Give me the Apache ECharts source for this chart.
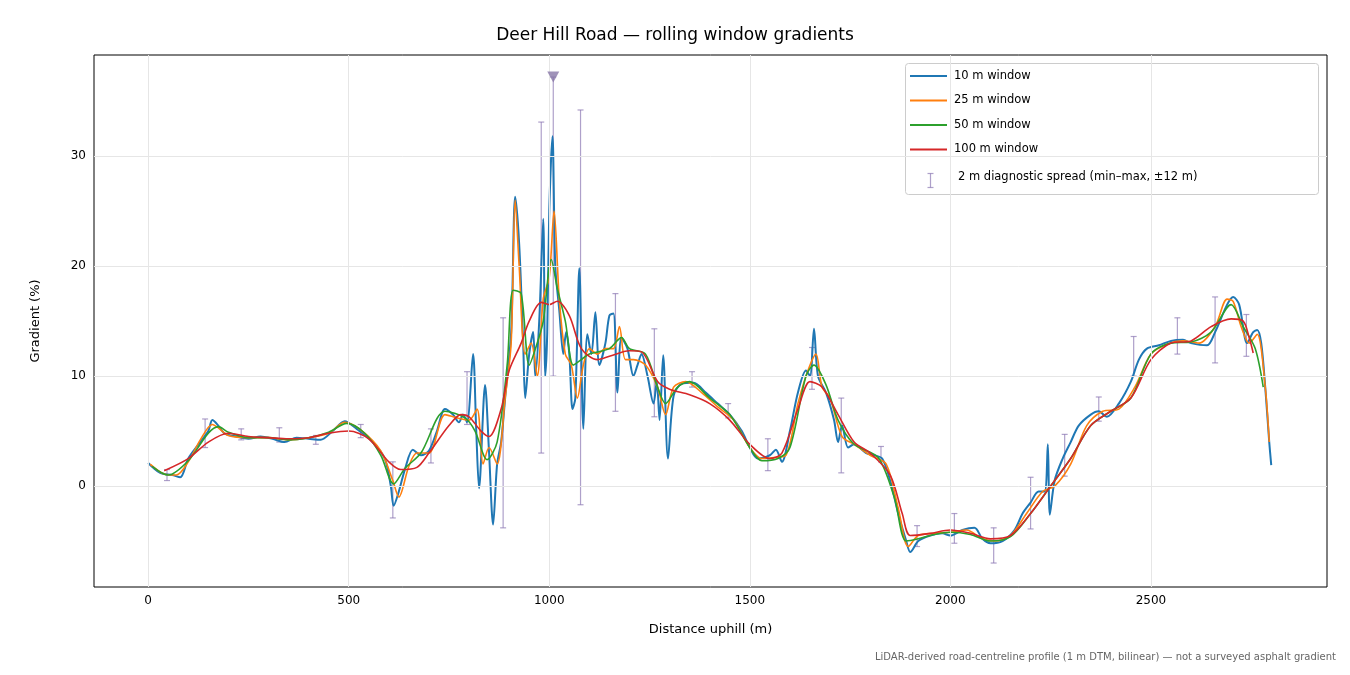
<!DOCTYPE html>
<html><head><meta charset="utf-8">
<script src="https://cdn.jsdelivr.net/npm/echarts@6/dist/echarts.min.js"></script>
<style>html,body{margin:0;padding:0;background:#fff}#c{width:1350px;height:675px}</style>
</head><body><div id="c"></div>
<script>
const x10 = [0,30,60,80,100,130,150,160,175,190,220,250,280,310,340,370,400,430,460,490,520,560,590,605,612,625,640,660,680,700,720,740,760,775,785,795,810,818,825,840,850,860,870,880,890,905,915,925,935,940,950,960,965,975,985,990,995,1000,1008,1015,1025,1035,1042,1050,1058,1065,1075,1085,1095,1105,1115,1125,1140,1150,1160,1170,1180,1195,1210,1220,1230,1245,1260,1268,1275,1284,1296,1310,1330,1360,1390,1420,1450,1480,1500,1520,1550,1565,1580,1600,1620,1640,1650,1660,1670,1690,1710,1720,1730,1745,1760,1790,1810,1830,1850,1870,1890,1900,1920,1950,1980,2000,2030,2060,2080,2100,2130,2160,2180,2200,2220,2235,2243,2248,2260,2280,2300,2320,2350,2370,2390,2420,2450,2470,2490,2520,2550,2580,2600,2640,2660,2690,2705,2720,2740,2755,2765,2775,2785,2795,2800];
const g10 = [2.1,1.2,1.0,0.8,2.5,4.0,5.0,6.0,5.5,4.8,4.5,4.3,4.5,4.3,4.0,4.4,4.3,4.2,5.0,5.9,5.2,4.0,2.5,0,-1.8,-0.5,1.5,3.3,2.8,3.2,5.0,7.0,6.5,5.8,6.5,5.8,12.0,5.0,-0.2,9.2,3.0,-3.5,2.0,4.0,8.0,14.0,26.3,22.0,13.0,8.0,12.0,14.0,10.0,15.0,24.3,10.0,14.0,25.0,31.8,20.0,16.0,12.0,14.0,12.0,7.0,8.0,19.8,5.2,13.8,12.0,15.8,11.0,13.0,15.5,15.7,8.5,13.5,12.5,10.0,11.0,12.0,10.0,7.5,9.5,6.0,11.9,2.5,8.2,9.3,9.4,8.5,7.5,6.5,5.0,3.5,2.5,2.8,3.3,2.2,5.0,8.5,10.5,10.0,14.3,10.0,8.5,6.0,4.0,5.5,3.5,3.8,3.0,2.8,2.5,0.5,-2.5,-5.0,-6.0,-5.0,-4.5,-4.3,-4.5,-4.0,-3.8,-4.8,-5.2,-5.0,-4.0,-2.5,-1.5,-0.5,-0.5,3.8,-2.6,0.5,2.5,4.0,5.5,6.5,6.8,6.3,7.5,9.5,11.5,12.5,12.8,13.2,13.3,13.0,12.8,14.0,16.5,17.2,16.5,13.0,14.0,14.2,13.0,9.0,4.0,1.9];
const x25 = [5,40,70,100,130,160,175,200,250,300,350,400,450,490,530,580,610,625,650,670,700,740,770,800,820,835,850,870,890,905,915,925,940,955,970,985,1000,1012,1025,1040,1055,1070,1085,1100,1120,1140,1160,1175,1190,1210,1240,1270,1290,1310,1340,1380,1420,1460,1500,1530,1560,1590,1620,1645,1665,1680,1700,1730,1760,1800,1840,1870,1895,1920,1960,2000,2040,2080,2110,2150,2190,2230,2260,2300,2340,2380,2420,2460,2500,2540,2580,2620,2660,2690,2705,2725,2745,2765,2785,2795];
const g25 = [2.0,1.1,1.0,2.2,4.2,5.6,5.3,4.6,4.4,4.4,4.2,4.4,4.8,5.8,5.1,3.2,0.5,-1.0,1.8,3.0,3.0,6.5,6.2,6.0,7.0,2.0,3.5,2.0,8.0,13.0,26.0,20.0,12.0,13.0,10.0,17.0,19.0,25.0,17.0,12.0,11.0,8.0,11.0,12.5,12.0,12.5,12.5,14.5,11.5,11.5,11.0,9.0,6.5,9.0,9.5,8.5,7.2,6.0,3.5,2.5,2.6,2.8,7.5,10.5,12.0,9.0,8.0,4.5,3.8,2.8,2.0,-2.0,-5.5,-4.5,-4.3,-4.2,-4.0,-4.8,-5.0,-4.5,-2.5,-0.5,0,2.0,5.5,6.8,7.0,9.0,12.0,12.9,13.2,13.0,14.5,17.0,16.8,14.5,13.0,13.8,9.0,4.0];
const x50 = [10,50,100,150,175,200,250,300,350,400,450,495,540,580,612,640,680,740,790,815,845,870,895,910,930,950,970,985,1005,1020,1040,1060,1080,1100,1150,1180,1200,1240,1270,1290,1320,1350,1400,1450,1500,1530,1570,1600,1640,1660,1690,1720,1760,1820,1860,1890,1920,1960,2000,2050,2100,2150,2200,2250,2300,2350,2400,2450,2500,2550,2600,2650,2700,2730,2760,2780];
const g50 = [1.8,1.0,2.3,4.8,5.4,4.9,4.4,4.4,4.2,4.4,4.9,5.7,4.8,2.8,0.2,1.6,3.0,6.8,6.2,5.0,2.4,4.0,11.0,17.8,17.5,11.0,13.0,15.0,20.6,18.0,15.0,11.0,11.5,12.0,12.5,13.5,12.5,12.0,9.0,7.5,9.0,9.5,8.0,6.5,3.5,2.3,2.5,3.5,10.0,11.0,9.2,6.0,3.8,2.6,-1.0,-5.0,-4.8,-4.4,-4.2,-4.4,-5.0,-4.6,-2.5,0,2.5,5.5,6.8,8.0,12.0,13.0,13.1,14.0,16.5,14.5,12.5,9.0];
const x100 = [40,100,150,200,250,300,350,400,450,500,550,600,630,670,700,750,780,800,830,850,880,900,930,950,980,1000,1020,1050,1080,1120,1150,1200,1230,1270,1300,1350,1400,1450,1500,1550,1580,1620,1650,1680,1720,1760,1800,1850,1880,1900,1950,2000,2050,2100,2150,2200,2250,2300,2350,2400,2450,2500,2550,2600,2650,2700,2730,2745,2755];
const g100 = [1.4,2.5,4.0,4.8,4.5,4.4,4.3,4.4,4.8,5.0,4.3,2.2,1.5,1.7,3.0,5.5,6.5,6.3,5.0,4.5,7.0,10.5,13.0,15.0,16.7,16.5,16.8,15.5,12.5,11.5,11.8,12.3,12.2,9.5,8.8,8.3,7.5,6.0,3.8,2.5,3.0,7.0,9.5,9.0,6.5,4.0,3.0,1.0,-2.5,-4.5,-4.3,-4.0,-4.3,-4.8,-4.5,-2.5,0,2.5,5.5,6.8,8.0,11.5,13.0,13.2,14.5,15.2,15.0,13.5,12.1];
const errX = [47,142,232,327,418,530,610,705,795,885,980,1010,1078,1165,1262,1356,1446,1545,1655,1728,1827,1917,2010,2108,2200,2285,2370,2457,2566,2660,2738];
const errHi = [1.5,6.1,5.2,5.3,4.6,5.6,2.2,5.2,10.4,15.3,33.1,37.2,34.2,17.5,14.3,10.4,7.5,4.3,12.6,8.0,3.6,-3.6,-2.5,-3.8,0.8,4.7,8.1,13.6,15.3,17.2,15.6];
const errLo = [0.5,3.5,4.2,4.0,3.8,4.4,-2.9,2.1,5.6,-3.8,3.0,10.0,-1.7,6.8,6.3,9.0,6.2,1.4,8.8,1.2,2.2,-5.5,-5.2,-7.0,-3.9,0.9,5.9,10.0,12.0,11.2,11.8];
const clipX = [1010], clipY = [37.2];
const xTicks = [0,500,1000,1500,2000,2500];
const yTicks = [0,10,20,30];
const errName = '2 m diagnostic spread (min–max, ±12 m)';

const zip = (a,b)=>a.map((v,i)=>[v,b[i]]);
const F = 'DejaVu Sans';
const chart = echarts.init(document.getElementById('c'));
const lineS = (name, xs, ys, color, w) => ({name, type:'line', data: zip(xs,ys), showSymbol:false, symbol:'none', smooth:0.3,
  lineStyle:{color, width:w}, itemStyle:{color}, z:3});
const errData = errX.map((x,i)=>[x,errLo[i],errHi[i]]);
const est = {stroke:'rgba(140,120,180,0.7)',lineWidth:1.2};
chart.setOption({
  animation:false,
  title:{text:'Deer Hill Road — rolling window gradients', left:'center', top:22, textStyle:{fontFamily:F,fontSize:17,fontWeight:'normal',color:'#000'}},
  grid:{left:94,right:23,top:55,bottom:88,show:true,borderColor:'#000',borderWidth:1,backgroundColor:'transparent'},
  xAxis:{type:'value',min:-135,max:2939,name:'Distance uphill (m)',nameLocation:'middle',nameGap:36,
    nameTextStyle:{fontFamily:F,fontSize:13,color:'#000'},
    axisLine:{show:false},splitLine:{show:false},
    axisTick:{show:true,customValues:xTicks,length:4,lineStyle:{color:'#000'}},
    axisLabel:{customValues:xTicks,formatter:v=>String(v),fontFamily:F,fontSize:12,color:'#000',margin:8}},
  yAxis:{type:'value',min:-9.18,max:39.2,name:'Gradient (%)',nameLocation:'middle',nameGap:52,
    nameTextStyle:{fontFamily:F,fontSize:13,color:'#000'},
    axisLine:{show:false},splitLine:{show:false},
    axisTick:{show:true,customValues:yTicks,length:4,lineStyle:{color:'#000'}},
    axisLabel:{customValues:yTicks,formatter:v=>String(v),fontFamily:F,fontSize:12,color:'#000',margin:8}},
  legend:{left:910,top:70,orient:'vertical',itemGap:12.5,itemWidth:37,itemHeight:2,padding:0,icon:'rect',
    textStyle:{fontFamily:F,fontSize:11.5,color:'#000',padding:[0,0,0,2]},
    data:['10 m window','25 m window','50 m window','100 m window']},
  series:[
    {name:'grid',type:'line',data:[],silent:true,markLine:{silent:true,symbol:'none',label:{show:false},
      lineStyle:{color:'#e6e6e6',width:1,type:'solid'},
      data:[...xTicks.map(v=>({xAxis:v})),...yTicks.map(v=>({yAxis:v}))]},z:0},
    lineS('10 m window',x10,g10,'#1f77b4',2),
    lineS('25 m window',x25,g25,'#ff7f0e',1.6),
    lineS('50 m window',x50,g50,'#2ca02c',1.6),
    lineS('100 m window',x100,g100,'#d62728',1.6),
    {name:errName,type:'custom',data:errData,z:2,
      encode:{x:0,y:[1,2]},
      renderItem:(params,api)=>{
        const x=api.value(0), lo=api.coord([x,api.value(1)]), hi=api.coord([x,api.value(2)]);
        return {type:'group',children:[
          {type:'line',shape:{x1:lo[0],y1:lo[1],x2:hi[0],y2:hi[1]},style:est},
          {type:'line',shape:{x1:lo[0]-3,y1:lo[1],x2:lo[0]+3,y2:lo[1]},style:est},
          {type:'line',shape:{x1:hi[0]-3,y1:hi[1],x2:hi[0]+3,y2:hi[1]},style:est}]};
      }},
    {name:'clip',type:'scatter',data:zip(clipX,clipY),symbol:'triangle',symbolRotate:180,symbolSize:[12,11],
      itemStyle:{color:'#8878a8'},z:5}
  ],
  graphic:[
    {type:'rect',left:905,top:63,shape:{width:413,height:131,r:3},style:{fill:'rgba(255,255,255,0.85)',stroke:'#ccc',lineWidth:1},z:-1},
    {type:'group',left:925,top:171,children:[
      {type:'line',shape:{x1:3,y1:0,x2:3,y2:14},style:est},
      {type:'line',shape:{x1:0,y1:0,x2:6,y2:0},style:est},
      {type:'line',shape:{x1:0,y1:14,x2:6,y2:14},style:est}]},
    {type:'text',left:958,top:171,style:{text:errName,fontFamily:F,fontSize:11.5,fill:'#000'}},
    {type:'text',right:14,top:652,style:{text:'LiDAR-derived road-centreline profile (1 m DTM, bilinear) — not a surveyed asphalt gradient',
    fontFamily:F,fontSize:10,fill:'#666'}}]
});
</script></body></html>
